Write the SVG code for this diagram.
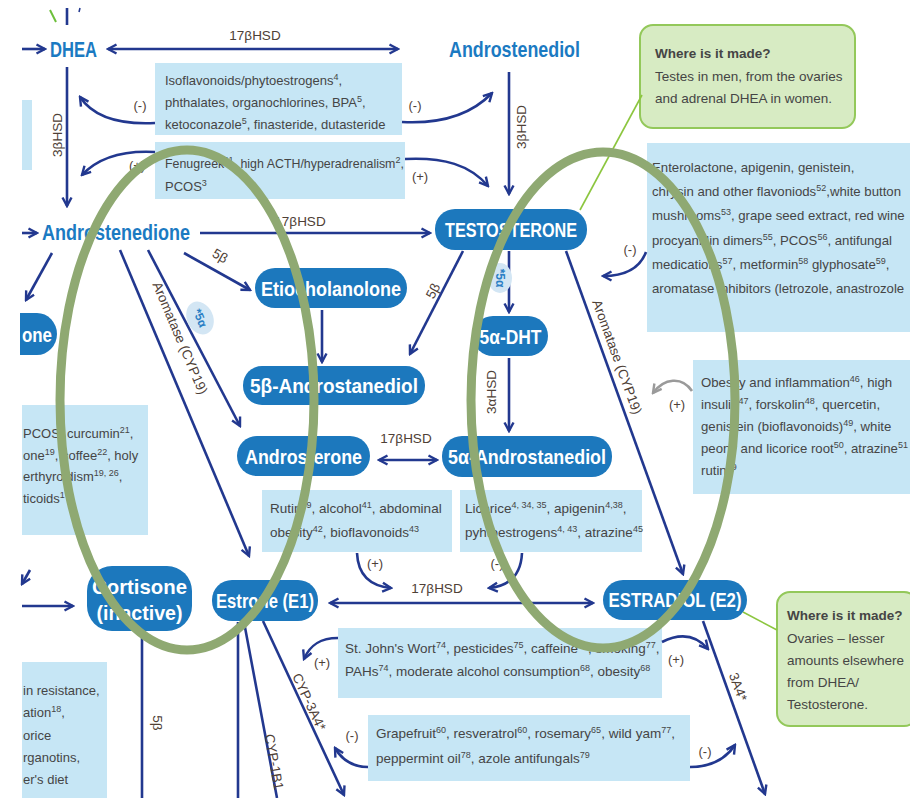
<svg xmlns="http://www.w3.org/2000/svg" width="910" height="798" viewBox="0 0 910 798">
<style>
text{font-family:"Liberation Sans",Arial,sans-serif}
.ln{stroke:#22388f;stroke-width:2.6;fill:none}
.la{stroke:#22388f;stroke-width:2.6;fill:none;marker-end:url(#ah)}
.lb{stroke:#22388f;stroke-width:2.6;fill:none;marker-end:url(#ah);marker-start:url(#ah)}
.n{fill:#1c78bd}
.nt{fill:#fff;font-weight:bold;font-size:21px;text-anchor:middle}
.tt{fill:#1b7ac2;font-weight:bold;font-size:22px}
.bx{fill:#c6e6f5}
.bt{fill:#454545;font-size:13.5px}
.bt13{fill:#454545;font-size:13px}
.br{fill:#454545;font-size:13.2px}
.lab{fill:#4e4036;font-size:13.5px;text-anchor:middle}
.pm{fill:#4e4036;font-size:13px;text-anchor:middle}
.gb{fill:#d7ebc3;stroke:#93c85a;stroke-width:2}
.gt{fill:#454545;font-size:13.5px}
.gl{stroke:#8cc63f;stroke-width:1.6;fill:none}
.s{font-size:9px}
.bdg{fill:#d3e6f4}
.bdt{fill:#2a7fc5;font-weight:bold;font-size:12px;text-anchor:middle}
.ov{fill:none;stroke:#8fa972;stroke-width:9}
</style>
<defs>
<marker id="ah" viewBox="0 0 12 12" refX="10" refY="6" markerWidth="12" markerHeight="12" markerUnits="userSpaceOnUse" orient="auto-start-reverse">
<path d="M1.5,1.5 L10,6 L1.5,10.5" fill="none" stroke="#22388f" stroke-width="2.4"/>
</marker>
<marker id="ahg" viewBox="0 0 12 12" refX="10" refY="6" markerWidth="12" markerHeight="12" markerUnits="userSpaceOnUse" orient="auto">
<path d="M1.5,1.5 L10,6 L1.5,10.5" fill="none" stroke="#9a9a9a" stroke-width="2.4"/>
</marker>
</defs>
<rect width="910" height="798" fill="#fff"/>

<!-- light blue boxes -->
<g id="box-inhib-top">
<rect class="bx" x="155" y="63" width="247" height="72"/>
<text class="bt13" x="165" y="85">Isoflavonoids/phytoestrogens<tspan class="s" baseline-shift="super">4</tspan>,</text>
<text class="bt13" x="165" y="107">phthalates, organochlorines, BPA<tspan class="s" baseline-shift="super">5</tspan>,</text>
<text class="bt13" x="165" y="129">ketoconazole<tspan class="s" baseline-shift="super">5</tspan>, finasteride, dutasteride</text>
</g>
<g id="box-induce-top">
<rect class="bx" x="155" y="142" width="250" height="57"/>
<text class="bt13" x="165" y="168" style="font-size:12.4px">Fenugreek<tspan class="s" baseline-shift="super">11</tspan>, high ACTH/hyperadrenalism<tspan class="s" baseline-shift="super">2</tspan>,</text>
<text class="bt13" x="165" y="191">PCOS<tspan class="s" baseline-shift="super">3</tspan></text>
</g>
<g id="box-left-stub"><rect class="bx" x="22" y="100" width="10" height="70"/></g>
<g id="box-aromatase-inhib">
<rect class="bx" x="647" y="143" width="263" height="189"/>
<text class="br" x="652" y="172">Enterolactone, apigenin, genistein,</text>
<text class="br" x="652" y="196">chrysin and other flavoniods<tspan class="s" baseline-shift="super">52</tspan>,white button</text>
<text class="br" x="652" y="220">mushrooms<tspan class="s" baseline-shift="super">53</tspan>, grape seed extract, red wine</text>
<text class="br" x="652" y="245">procyanidin dimers<tspan class="s" baseline-shift="super">55</tspan>, PCOS<tspan class="s" baseline-shift="super">56</tspan>, antifungal</text>
<text class="br" x="652" y="269">medications<tspan class="s" baseline-shift="super">57</tspan>, metformin<tspan class="s" baseline-shift="super">58</tspan> glyphosate<tspan class="s" baseline-shift="super">59</tspan>,</text>
<text class="br" x="652" y="293">aromatase inhibitors (letrozole, anastrozole</text>
</g>
<g id="box-aromatase-induce">
<rect class="bx" x="693" y="360" width="217" height="134"/>
<text class="br" x="701" y="387">Obesity and inflammation<tspan class="s" baseline-shift="super">46</tspan>, high</text>
<text class="br" x="701" y="409">insulin<tspan class="s" baseline-shift="super">47</tspan>, forskolin<tspan class="s" baseline-shift="super">48</tspan>, quercetin,</text>
<text class="br" x="701" y="431">genistein (bioflavonoids)<tspan class="s" baseline-shift="super">49</tspan>, white</text>
<text class="br" x="701" y="453">peony and licorice root<tspan class="s" baseline-shift="super">50</tspan>, atrazine<tspan class="s" baseline-shift="super">51</tspan></text>
<text class="br" x="701" y="475">rutin<tspan class="s" baseline-shift="super">39</tspan></text>
</g>
<g id="box-pcos">
<rect class="bx" x="22" y="405" width="126" height="130"/>
<text class="bt13" x="23" y="438">PCOS, curcumin<tspan class="s" baseline-shift="super">21</tspan>,</text>
<text class="bt13" x="23" y="460">one<tspan class="s" baseline-shift="super">19</tspan>, coffee<tspan class="s" baseline-shift="super">22</tspan>, holy</text>
<text class="bt13" x="23" y="481">erthyroidism<tspan class="s" baseline-shift="super">19, 26</tspan>,</text>
<text class="bt13" x="23" y="503">ticoids<tspan class="s" baseline-shift="super">1</tspan></text>
</g>
<g id="box-rutin">
<rect class="bx" x="262" y="490" width="190" height="62"/>
<text class="bt" x="270" y="513">Rutin<tspan class="s" baseline-shift="super">39</tspan>, alcohol<tspan class="s" baseline-shift="super">41</tspan>, abdominal</text>
<text class="bt" x="270" y="537">obesity<tspan class="s" baseline-shift="super">42</tspan>, bioflavonoids<tspan class="s" baseline-shift="super">43</tspan></text>
</g>
<g id="box-licorice">
<rect class="bx" x="460" y="490" width="182" height="62"/>
<text class="bt" x="465" y="513">Licorice<tspan class="s" baseline-shift="super">4, 34, 35</tspan>, apigenin<tspan class="s" baseline-shift="super">4,38</tspan>,</text>
<text class="bt" x="465" y="537">pyhtoestrogens<tspan class="s" baseline-shift="super">4, 43</tspan>, atrazine<tspan class="s" baseline-shift="super">45</tspan></text>
</g>
<g id="box-bottom-left">
<rect class="bx" x="22" y="662" width="85" height="136"/>
<text class="bt13" x="23" y="695">in resistance,</text>
<text class="bt13" x="23" y="717">ation<tspan class="s" baseline-shift="super">18</tspan>,</text>
<text class="bt13" x="23" y="740">orice</text>
<text class="bt13" x="23" y="762">rganotins,</text>
<text class="bt13" x="23" y="784">er's diet</text>
</g>
<g id="box-stjohns">
<rect class="bx" x="338" y="628" width="324" height="70"/>
<text class="bt" x="345" y="653">St. John's Wort<tspan class="s" baseline-shift="super">74</tspan>, pesticides<tspan class="s" baseline-shift="super">75</tspan>, caffeine<tspan class="s" baseline-shift="super">76</tspan>, smoking<tspan class="s" baseline-shift="super">77</tspan>,</text>
<text class="bt" x="345" y="676">PAHs<tspan class="s" baseline-shift="super">74</tspan>, moderate alcohol consumption<tspan class="s" baseline-shift="super">68</tspan>, obesity<tspan class="s" baseline-shift="super">68</tspan></text>
</g>
<g id="box-grapefruit">
<rect class="bx" x="368" y="715" width="322" height="66"/>
<text class="bt" x="376" y="738">Grapefruit<tspan class="s" baseline-shift="super">60</tspan>, resveratrol<tspan class="s" baseline-shift="super">60</tspan>, rosemary<tspan class="s" baseline-shift="super">65</tspan>, wild yam<tspan class="s" baseline-shift="super">77</tspan>,</text>
<text class="bt" x="376" y="763">peppermint oil<tspan class="s" baseline-shift="super">78</tspan>, azole antifungals<tspan class="s" baseline-shift="super">79</tspan></text>
</g>

<!-- green info boxes -->
<g id="info-testosterone">
<rect class="gb" x="640" y="25" width="215" height="103" rx="13"/>
<text class="gt" x="655" y="58" font-weight="bold" fill="#2b2b2b">Where is it made?</text>
<text class="gt" x="655" y="81">Testes in men, from the ovaries</text>
<text class="gt" x="655" y="103">and adrenal DHEA in women.</text>
</g>
<g id="info-estradiol">
<rect class="gb" x="777" y="592" width="140" height="134" rx="13"/>
<text class="gt" x="787" y="620" font-weight="bold" fill="#2b2b2b">Where is it made?</text>
<text class="gt" x="787" y="643">Ovaries – lesser</text>
<text class="gt" x="787" y="665">amounts elsewhere</text>
<text class="gt" x="787" y="687">from DHEA/</text>
<text class="gt" x="787" y="709">Testosterone.</text>
</g>

<!-- connectors -->
<g id="connectors">
<line class="ln" x1="67" y1="8" x2="67" y2="25"/>
<line x1="50" y1="10" x2="56" y2="22" stroke="#6cbf3a" stroke-width="2"/>
<line x1="80" y1="8" x2="79" y2="12" stroke="#22388f" stroke-width="1.5"/>
<line class="la" x1="22" y1="49" x2="45" y2="49"/>
<line class="lb" x1="108" y1="49" x2="398" y2="49"/>
<text class="lab" x="255" y="40">17βHSD</text>
<line class="la" x1="67" y1="67" x2="67" y2="206"/>
<text class="lab" transform="translate(57,135) rotate(-90)" y="4.5">3βHSD</text>
<line class="la" x1="509" y1="72" x2="509" y2="194"/>
<text class="lab" transform="translate(521,127) rotate(-90)" y="4.5">3βHSD</text>
<path class="la" d="M155,123 C115,125 92,115 80,97"/>
<path class="la" d="M155,152 C118,150 96,160 82,175"/>
<path class="la" d="M402,122 C440,124 470,116 492,93"/>
<path class="la" d="M405,159 C444,157 470,165 488,186"/>
<text class="pm" x="140" y="110">(-)</text>
<text class="pm" x="137" y="170">(+)</text>
<text class="pm" x="415" y="110">(-)</text>
<text class="pm" x="420" y="181">(+)</text>
<line class="la" x1="22" y1="233" x2="37" y2="233"/>
<line class="la" x1="52" y1="253" x2="26" y2="300"/>
<line class="la" x1="200" y1="233" x2="430" y2="233"/>
<text class="lab" x="300" y="226">17βHSD</text>
<line class="la" x1="184" y1="253" x2="250" y2="290"/>
<text class="lab" transform="translate(220,256) rotate(30)" y="4.5">5β</text>
<line class="la" x1="120" y1="250" x2="249" y2="556"/>
<text class="lab" transform="translate(180,338) rotate(67)" y="4.5">Aromatase (CYP19)</text>
<line class="la" x1="148" y1="250" x2="240" y2="426"/>
<line class="la" x1="322" y1="310" x2="322" y2="362"/>
<line class="la" x1="463" y1="251" x2="410" y2="354"/>
<text class="lab" transform="translate(433,291) rotate(-62)" y="4.5">5β</text>
<line class="la" x1="509" y1="251" x2="509" y2="312"/>
<line class="la" x1="509" y1="358" x2="509" y2="431"/>
<text class="lab" transform="translate(491,392) rotate(-90)" y="4.5">3αHSD</text>
<line class="lb" x1="379" y1="460" x2="437" y2="460"/>
<text class="lab" x="406" y="443">17βHSD</text>
<line class="la" x1="566" y1="251" x2="683" y2="574"/>
<text class="lab" transform="translate(617,357) rotate(70)" y="4.5">Aromatase (CYP19)</text>
<path class="la" d="M646,252 C640,268 626,276 603,276"/>
<text class="pm" x="630" y="254">(-)</text>
<path d="M692,391 C682,376 664,378 653,393" fill="none" stroke="#9a9a9a" stroke-width="2.6" marker-end="url(#ahg)"/>
<text class="pm" x="677" y="409">(+)</text>
<path class="la" d="M357,553 C358,575 370,586 391,588"/>
<text class="pm" x="375" y="568">(+)</text>
<path class="la" d="M522,553 C521,575 510,586 489,588"/>
<text class="pm" x="497" y="568">(-)</text>
<line class="la" x1="30" y1="570" x2="22" y2="584"/>
<line class="la" x1="22" y1="606" x2="73" y2="606"/>
<line class="ln" x1="142" y1="632" x2="142" y2="798"/>
<text class="lab" transform="translate(157,723) rotate(90)" y="4.5">5β</text>
<line class="lb" x1="330" y1="603" x2="593" y2="603"/>
<text class="lab" x="437" y="593">17βHSD</text>
<line class="ln" x1="238" y1="622" x2="238" y2="798"/>
<line class="ln" x1="244" y1="622" x2="277" y2="798"/>
<text class="lab" transform="translate(274,762) rotate(80)" y="4.5">CYP-1B1</text>
<line class="la" x1="263" y1="621" x2="344" y2="795"/>
<text class="lab" transform="translate(309,702) rotate(65)" y="4.5">CYP-3A4*</text>
<path class="la" d="M338,638 C320,638 310,645 304,659"/>
<text class="pm" x="322" y="667">(+)</text>
<path class="la" d="M662,642 C680,633 696,635 708,649"/>
<text class="pm" x="676" y="664">(+)</text>
<path class="la" d="M368,767 C352,767 342,760 335,748"/>
<text class="pm" x="352" y="740">(-)</text>
<path class="la" d="M690,767 C710,767 725,760 735,745"/>
<text class="pm" x="705" y="756">(-)</text>
<line class="la" x1="703" y1="621" x2="765" y2="794"/>
<text class="lab" transform="translate(738,687) rotate(70)" y="4.5">3A4*</text>
<line class="gl" x1="580" y1="210" x2="642" y2="95"/>
<line class="gl" x1="743" y1="612" x2="777" y2="630"/>
</g>

<!-- badges -->
<g id="badge-5a-left">
<ellipse class="bdg" cx="200" cy="318" rx="13" ry="17" transform="rotate(-25 200 318)"/>
<text class="bdt" transform="translate(200,318) rotate(67)" y="4">*5α</text>
</g>
<g id="badge-5a-testo">
<ellipse class="bdg" cx="500" cy="278" rx="12" ry="15"/>
<text class="bdt" transform="translate(500,278) rotate(90)" y="4">*5α</text>
</g>

<!-- title nodes -->
<g id="node-dhea"><text class="tt" x="50" y="57" textLength="47" lengthAdjust="spacingAndGlyphs">DHEA</text></g>
<g id="node-androstenediol"><text class="tt" x="449" y="57" textLength="131" lengthAdjust="spacingAndGlyphs">Androstenediol</text></g>
<g id="node-androstenedione"><text class="tt" x="42" y="240" textLength="148" lengthAdjust="spacingAndGlyphs">Androstenedione</text></g>

<!-- pill nodes -->
<g id="node-one">
<path class="n" d="M20,313 H37 A20,21 0 0 1 37,355 H20 Z"/>
<text class="nt" x="22" y="342" style="text-anchor:start" textLength="30" lengthAdjust="spacingAndGlyphs">one</text>
</g>
<g id="node-testosterone">
<rect class="n" x="435" y="209" width="152" height="41" rx="20"/>
<text class="nt" x="511" y="237" textLength="132" lengthAdjust="spacingAndGlyphs">TESTOSTERONE</text>
</g>
<g id="node-etiocholanolone">
<rect class="n" x="255" y="268" width="152" height="40" rx="20"/>
<text class="nt" x="331" y="296" textLength="140" lengthAdjust="spacingAndGlyphs">Etiocholanolone</text>
</g>
<g id="node-5a-dht">
<rect class="n" x="473" y="316" width="75" height="40" rx="20"/>
<text class="nt" x="510.5" y="344" textLength="62" lengthAdjust="spacingAndGlyphs">5α-DHT</text>
</g>
<g id="node-5b-androstanediol">
<rect class="n" x="243" y="366" width="182" height="39" rx="19"/>
<text class="nt" x="334" y="393" textLength="168" lengthAdjust="spacingAndGlyphs">5β-Androstanediol</text>
</g>
<g id="node-androsterone">
<rect class="n" x="237" y="436" width="133" height="40" rx="20"/>
<text class="nt" x="303.5" y="464" textLength="117" lengthAdjust="spacingAndGlyphs">Androsterone</text>
</g>
<g id="node-5a-androstanediol">
<rect class="n" x="442" y="436" width="170" height="41" rx="20"/>
<text class="nt" x="527" y="464" textLength="158" lengthAdjust="spacingAndGlyphs">5α-Androstanediol</text>
</g>
<g id="node-cortisone">
<rect class="n" x="87" y="566" width="105" height="65" rx="25"/>
<text class="nt" x="139.5" y="594" textLength="95" lengthAdjust="spacingAndGlyphs">Cortisone</text>
<text class="nt" x="139.5" y="620" textLength="86" lengthAdjust="spacingAndGlyphs">(inactive)</text>
</g>
<g id="node-estrone">
<rect class="n" x="212" y="580" width="106" height="41" rx="20"/>
<text class="nt" x="265" y="608" textLength="98" lengthAdjust="spacingAndGlyphs">Estrone (E1)</text>
</g>
<g id="node-estradiol">
<rect class="n" x="603" y="580" width="144" height="40" rx="20"/>
<text class="nt" x="675" y="607" textLength="133" lengthAdjust="spacingAndGlyphs">ESTRADIOL (E2)</text>
</g>

<!-- highlight ovals -->
<g id="ovals">
<ellipse class="ov" cx="187" cy="400" rx="127" ry="250"/>
<ellipse class="ov" cx="603" cy="400" rx="132" ry="248"/>
</g>
</svg>
